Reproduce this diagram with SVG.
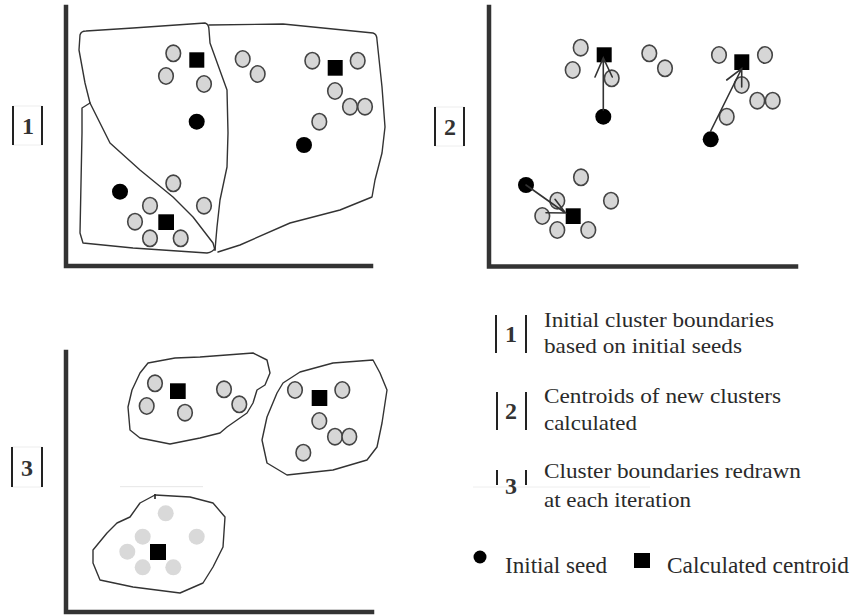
<svg xmlns="http://www.w3.org/2000/svg" width="851" height="615" viewBox="0 0 851 615">
<style>
.axis{stroke:#333;stroke-width:4.5;fill:none;stroke-linecap:square}
.bd{stroke:#333;stroke-width:1.4;fill:none;stroke-linejoin:round;stroke-linecap:round}
.pt{fill:#d6d6d6;stroke:#444;stroke-width:1.6}
.pl{fill:#d9d9d9}
.seed{fill:#000}
.cen{fill:#000}
.arr{stroke:#333;stroke-width:1.6;fill:none;stroke-linecap:round}
.num{font-family:"Liberation Serif",serif;font-weight:bold;font-size:24px;fill:#333;text-anchor:middle}
.bar{stroke:#222;stroke-width:2}
.fbox{stroke:#eee;stroke-width:1;fill:none}
.txt{font-family:"Liberation Serif",serif;font-size:21px;fill:#2a2a2a}
.txt2{font-family:"Liberation Serif",serif;font-size:23px;fill:#2a2a2a}
</style>
<rect width="851" height="615" fill="#fff"/>

<g id="panel1">
  <path class="axis" d="M66,7 V266 H371"/>
  <g id="p1-bounds">
    <path class="bd" d="M90,103 L85,83 L79,50 L80,35 Q81,31 86,31 L133,28 L205,23 Q209,24 209,30 L210,43 L227,90 L228,133 L227,167 L220,200 L217,227 L215,250"/>
    <path class="bd" d="M90,103 L110,143 L140,170 L173,197 L193,217 L213,243 L215,250"/>
    <path class="bd" d="M90,103 L82,108 L82,133 L80,233 L83,243 L133,248 L207,253 Q213,252 215,248"/>
    <path class="bd" d="M209,25 L283,24 L373,33 Q377,34 377,40 L382,87 L385,127 L382,153 L375,180 L372,197 L340,210 L290,223 L240,245 L218,252"/>
  </g>
  <g id="p1-points">
    <ellipse class="pt" cx="173.3" cy="53.3" rx="7.3" ry="8.2"/>
    <ellipse class="pt" cx="166" cy="76" rx="7.3" ry="8.2"/>
    <ellipse class="pt" cx="204" cy="84" rx="7.3" ry="8.2"/>
    <ellipse class="pt" cx="173.3" cy="183.3" rx="7.3" ry="8.2"/>
    <ellipse class="pt" cx="150" cy="205.7" rx="7.3" ry="8.2"/>
    <ellipse class="pt" cx="204" cy="205.7" rx="7.3" ry="8.2"/>
    <ellipse class="pt" cx="135" cy="221.7" rx="7.3" ry="8.2"/>
    <ellipse class="pt" cx="150" cy="238.3" rx="7.3" ry="8.2"/>
    <ellipse class="pt" cx="180.7" cy="238.3" rx="7.3" ry="8.2"/>
    <ellipse class="pt" cx="242.7" cy="59" rx="7.3" ry="8.2"/>
    <ellipse class="pt" cx="257.7" cy="74" rx="7.3" ry="8.2"/>
    <ellipse class="pt" cx="312.3" cy="60.7" rx="7.3" ry="8.2"/>
    <ellipse class="pt" cx="357.7" cy="60.7" rx="7.3" ry="8.2"/>
    <ellipse class="pt" cx="335" cy="91" rx="7.3" ry="8.2"/>
    <ellipse class="pt" cx="350" cy="106.7" rx="7.3" ry="8.2"/>
    <ellipse class="pt" cx="365" cy="106.7" rx="7.3" ry="8.2"/>
    <ellipse class="pt" cx="319.3" cy="121.7" rx="7.3" ry="8.2"/>
    <circle class="seed" cx="196.7" cy="121.7" r="8"/>
    <circle class="seed" cx="120" cy="191.7" r="8"/>
    <circle class="seed" cx="304" cy="145" r="8"/>
    <rect class="cen" x="189.3" y="52.3" width="15" height="15.4"/>
    <rect class="cen" x="158.3" y="214.3" width="15.7" height="15.7"/>
    <rect class="cen" x="327.7" y="60" width="15" height="15.7"/>
  </g>
  <g id="label1">
    <rect class="fbox" x="13" y="106" width="29" height="39"/>
    <line class="bar" x1="13" y1="106" x2="13" y2="145"/>
    <line class="bar" x1="42" y1="106" x2="42" y2="145"/>
    <text class="num" x="28" y="134">1</text>
  </g>
</g>

<g id="panel2">
  <path class="axis" d="M489,7 V266.5 H796"/>
  <g id="p2-points">
    <ellipse class="pt" cx="580.7" cy="47.7" rx="7.3" ry="8.2"/>
    <ellipse class="pt" cx="572.7" cy="70" rx="7.3" ry="8.2"/>
    <ellipse class="pt" cx="611.7" cy="78.3" rx="7.3" ry="8.2"/>
    <ellipse class="pt" cx="649.3" cy="53.3" rx="7.3" ry="8.2"/>
    <ellipse class="pt" cx="665" cy="68.3" rx="7.3" ry="8.2"/>
    <ellipse class="pt" cx="719" cy="55" rx="7.3" ry="8.2"/>
    <ellipse class="pt" cx="765" cy="55" rx="7.3" ry="8.2"/>
    <ellipse class="pt" cx="741.7" cy="85" rx="7.3" ry="8.2"/>
    <ellipse class="pt" cx="757.3" cy="100.7" rx="7.3" ry="8.2"/>
    <ellipse class="pt" cx="772.7" cy="100.7" rx="7.3" ry="8.2"/>
    <ellipse class="pt" cx="726.7" cy="116.7" rx="7.3" ry="8.2"/>
    <ellipse class="pt" cx="581" cy="177.3" rx="7.3" ry="8.2"/>
    <ellipse class="pt" cx="557.3" cy="200.7" rx="7.3" ry="8.2"/>
    <ellipse class="pt" cx="611" cy="200.7" rx="7.3" ry="8.2"/>
    <ellipse class="pt" cx="542.3" cy="216" rx="7.3" ry="8.2"/>
    <ellipse class="pt" cx="557.3" cy="230" rx="7.3" ry="8.2"/>
    <ellipse class="pt" cx="588.3" cy="230" rx="7.3" ry="8.2"/>
    <circle class="seed" cx="603.3" cy="116.7" r="8"/>
    <circle class="seed" cx="710.7" cy="139.3" r="8"/>
    <circle class="seed" cx="526" cy="185" r="8"/>
    <rect class="cen" x="596.7" y="47.3" width="15" height="15"/>
    <rect class="cen" x="734.3" y="54.3" width="15" height="15.7"/>
    <rect class="cen" x="565.7" y="208.3" width="15" height="15.7"/>
  </g>
  <g id="p2-arrows">
    <path class="arr" d="M603.3,110 V58 M595,77 L603.3,58 L612.3,77"/>
    <path class="arr" d="M710.7,131 L741.7,68.5 M726.7,80 L741.7,68.5 L741.7,87"/>
    <path class="arr" d="M526,185 L565.5,213 M546,212.7 L565.5,213 L555,199.3"/>
  </g>
  <g id="label2">
    <rect class="fbox" x="435" y="107" width="29" height="39"/>
    <line class="bar" x1="435" y1="107" x2="435" y2="146"/>
    <line class="bar" x1="464" y1="107" x2="464" y2="146"/>
    <text class="num" x="450" y="135">2</text>
  </g>
</g>

<g id="panel3">
  <path class="axis" d="M66,352 V612 H372"/>
  <g id="p3-bounds">
    <path class="bd" d="M148,363 L175,358 L200,357 L253,353 L267,360 L270,373 L265,385 L257,390 L253,403 L247,413 L237,420 L227,427 L220,433 L200,438 L170,444 L140,438 L130,430 L128,407 L132,390 L140,373 Z"/>
    <path class="bd" d="M283,383 L300,372 L333,363 L373,360 L380,373 L387,390 L382,423 L377,447 L367,460 L333,470 L287,475 L267,463 L262,440 L267,417 L277,393 Z"/>
    <path class="bd" d="M155,495 L190,497 L213,503 L225,517 L223,547 L213,567 L203,583 L180,593 L133,587 L100,580 L93,563 L93,550 L107,533 L117,523 L130,517 L140,503 Z"/>
    <line x1="155" y1="494" x2="155" y2="499" stroke="#222" stroke-width="1.6"/>
    <line x1="120" y1="486.7" x2="203" y2="486.7" stroke="#e6e6e6" stroke-width="1"/>
  </g>
  <g id="p3-points">
    <ellipse class="pt" cx="155" cy="383.3" rx="7.3" ry="8.2"/>
    <ellipse class="pt" cx="146.7" cy="406" rx="7.3" ry="8.2"/>
    <ellipse class="pt" cx="185" cy="412.7" rx="7.3" ry="8.2"/>
    <ellipse class="pt" cx="224" cy="389.3" rx="7.3" ry="8.2"/>
    <ellipse class="pt" cx="239.3" cy="404.3" rx="7.3" ry="8.2"/>
    <ellipse class="pt" cx="295" cy="390" rx="7.3" ry="8.2"/>
    <ellipse class="pt" cx="342.3" cy="390" rx="7.3" ry="8.2"/>
    <ellipse class="pt" cx="319.3" cy="421" rx="7.3" ry="8.2"/>
    <ellipse class="pt" cx="335" cy="436.7" rx="7.3" ry="8.2"/>
    <ellipse class="pt" cx="349.3" cy="436.7" rx="7.3" ry="8.2"/>
    <ellipse class="pt" cx="303.3" cy="452.7" rx="7.3" ry="8.2"/>
    <circle class="pl" cx="165.7" cy="513.3" r="8"/>
    <circle class="pl" cx="142.7" cy="536.7" r="8"/>
    <circle class="pl" cx="196.7" cy="536.7" r="8"/>
    <circle class="pl" cx="127.3" cy="551.7" r="8"/>
    <circle class="pl" cx="142.7" cy="567.3" r="8"/>
    <circle class="pl" cx="173.3" cy="567.3" r="8"/>
    <rect class="cen" x="170" y="383.3" width="15.7" height="15.7"/>
    <rect class="cen" x="311.7" y="390" width="15.6" height="16"/>
    <rect class="cen" x="150" y="544" width="16" height="16"/>
  </g>
  <g id="label3">
    <rect class="fbox" x="12" y="447" width="30" height="40"/>
    <line class="bar" x1="12" y1="447" x2="12" y2="487"/>
    <line class="bar" x1="42" y1="447" x2="42" y2="487"/>
    <text class="num" x="27" y="476">3</text>
  </g>
</g>

<g id="legend">
  <g id="leg1">
    <line class="bar" x1="496" y1="315" x2="496" y2="353"/>
    <line class="bar" x1="526" y1="315" x2="526" y2="353"/>
    <text class="num" x="511" y="342">1</text>
    <text class="txt" x="544" y="327" textLength="230" lengthAdjust="spacingAndGlyphs">Initial cluster boundaries</text>
    <text class="txt" x="544" y="353" textLength="198" lengthAdjust="spacingAndGlyphs">based on initial seeds</text>
  </g>
  <g id="leg2">
    <line class="bar" x1="497" y1="392" x2="497" y2="430"/>
    <line class="bar" x1="526" y1="392" x2="526" y2="430"/>
    <text class="num" x="511" y="419">2</text>
    <text class="txt" x="544" y="403" textLength="237" lengthAdjust="spacingAndGlyphs">Centroids of new clusters</text>
    <text class="txt" x="544" y="430" textLength="93" lengthAdjust="spacingAndGlyphs">calculated</text>
  </g>
  <g id="leg3">
    <line x1="473" y1="487" x2="650" y2="487" stroke="#eee" stroke-width="1"/>
    <line class="bar" x1="497" y1="470" x2="497" y2="485"/>
    <line class="bar" x1="526" y1="470" x2="526" y2="485"/>
    <text class="num" x="511" y="494">3</text>
    <text class="txt" x="544" y="478" textLength="257" lengthAdjust="spacingAndGlyphs">Cluster boundaries redrawn</text>
    <text class="txt" x="544" y="507" textLength="147" lengthAdjust="spacingAndGlyphs">at each iteration</text>
  </g>
  <g id="leg-keys">
    <circle class="seed" cx="480" cy="557" r="6.5"/>
    <text class="txt2" x="505" y="573" textLength="102" lengthAdjust="spacingAndGlyphs">Initial seed</text>
    <rect class="cen" x="634" y="553" width="16" height="15"/>
    <text class="txt2" x="667" y="573" textLength="182" lengthAdjust="spacingAndGlyphs">Calculated centroid</text>
  </g>
</g>
</svg>
